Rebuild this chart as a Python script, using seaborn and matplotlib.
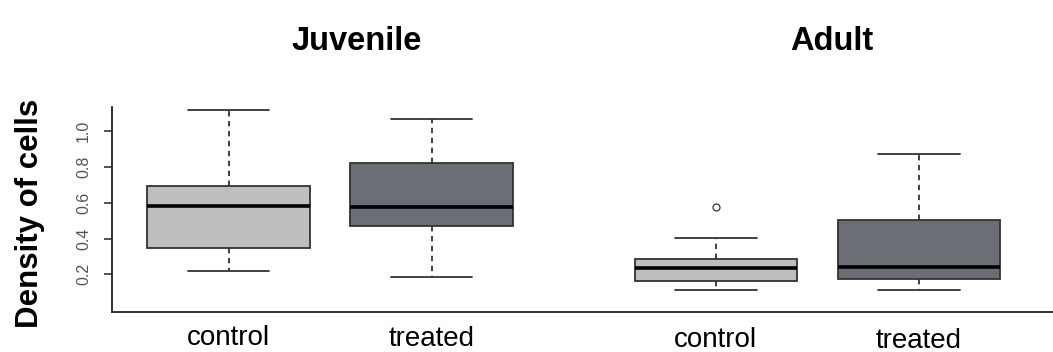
import numpy as np
import pandas as pd
import seaborn as sns
import matplotlib.pyplot as plt

sns.set_theme(style="white")
plt.rcParams['font.family'] = ['Liberation Sans', 'DejaVu Sans']
plt.rcParams['text.color'] = 'black'

# data
stages = ["Juvenile", "Adult"]
groups = ["control", "treated"]
positions = [1.0, 2.0, 3.4, 4.4]

juvenile_control = [0.217, 0.29, 0.35, 0.47, 0.582, 0.64, 0.693, 0.85, 1.117]
juvenile_treated = [0.185, 0.40, 0.47, 0.52, 0.574, 0.70, 0.82, 0.95, 1.065]
adult_control = [0.111, 0.14, 0.161, 0.20, 0.233, 0.26, 0.287, 0.404, 0.576]
adult_treated = [0.111, 0.15, 0.172, 0.21, 0.24, 0.38, 0.506, 0.70, 0.872]

series = [juvenile_control, juvenile_treated, adult_control, adult_treated]
labels = ["control", "treated", "control", "treated"]

rows = []
for pos, lab, vals in zip(positions, labels, series):
    for v in vals:
        rows.append({"pos": pos, "group": lab, "density": v})
df = pd.DataFrame(rows)

fig = plt.figure(figsize=(10.53, 3.52), dpi=100)
ax = fig.add_axes([0.1064, 0.1136, 0.8936, 0.5824])

sns.boxplot(data=df, x="pos", y="density", hue="group", native_scale=True,
            palette={"control": "#bebebe", "treated": "#6b6e75"},
            saturation=1, width=0.8, linecolor="#333333", linewidth=1.3,
            legend=False, ax=ax,
            whiskerprops=dict(linestyle=(0, (3, 2.5)), color="#333333"),
            capprops=dict(color="#333333"),
            medianprops=dict(color="black", linewidth=2.6),
            flierprops=dict(marker="o", markerfacecolor="none",
                            markeredgecolor="#333333", markersize=5,
                            markeredgewidth=0.9))

ax.set_xlim(0.426, 5.06)
ax.set_ylim(-0.01, 1.134)
ax.set_xticks([])
ax.set_yticks([0.2, 0.4, 0.6, 0.8, 1.0])
ax.set_yticklabels(["0.2", "0.4", "0.6", "0.8", "1.0"], rotation=90,
                   va="center", fontsize=11.5, color="#555555")
ax.tick_params(axis="y", direction="out", length=6, width=1.1,
               color="#222222", pad=9, left=True)
ax.set_xlabel("")
ax.set_ylabel("")
for side in ["top", "right"]:
    ax.spines[side].set_visible(False)
for side in ["left", "bottom"]:
    ax.spines[side].set_color("#222222")
    ax.spines[side].set_linewidth(1.3)

offsets = [23.5, 24.5, 25.5, 26]
for pos, lab, off in zip(positions, labels, offsets):
    ax.annotate(lab, xy=(pos, 0), xycoords=("data", "axes fraction"),
                xytext=(0, -off), textcoords="offset points",
                ha="center", va="baseline", fontsize=20, color="black",
                annotation_clip=False)

fig.text(357 / 1053, 0.858, stages[0], ha="center", va="baseline",
         fontsize=23.5, fontweight="bold")
fig.text(832 / 1053, 0.858, stages[1], ha="center", va="baseline",
         fontsize=23.5, fontweight="bold")
fig.text(30 / 1053, 0.395, "Density of cells", rotation=90, ha="center",
         va="center", fontsize=22.5, fontweight="bold")

fig.savefig("out.png", dpi=100)
